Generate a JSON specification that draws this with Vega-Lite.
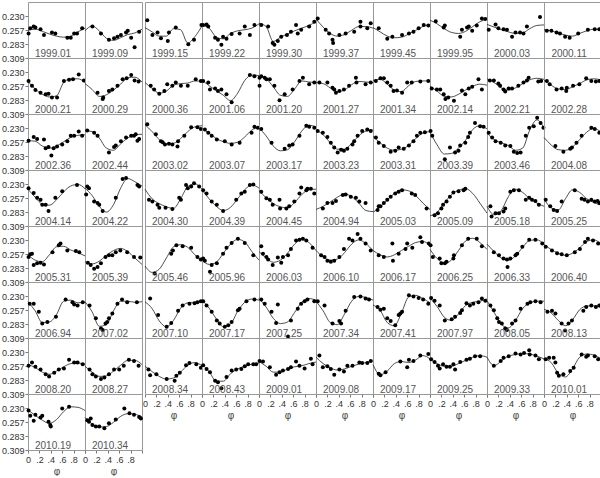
{
"$schema":"https://vega.github.io/schema/vega-lite/v6.json",
"padding":{"top":1,"left":1,"right":2,"bottom":0},
"background":"white",
"config":{"view":{"stroke":"#999","strokeWidth":1},"font":"Liberation Sans","headerFacet":{"labels":false,"title":null,"labelFontSize":0,"labelPadding":0,"titlePadding":0}},
"data":{"values":[
{"k":0,"x":0,"c":0.257,"n":"1999.01"},{"k":0,"x":0.125,"c":0.255},{"k":0,"x":0.25,"c":0.259},{"k":0,"x":0.375,"c":0.264},{"k":0,"x":0.5,"c":0.268},{"k":0,"x":0.625,"c":0.27},{"k":0,"x":0.75,"c":0.268},{"k":0,"x":0.875,"c":0.26},{"k":0,"x":1,"c":0.253},
{"k":0,"x":0.01,"m":0.263},{"k":0,"x":0.04,"m":0.253},{"k":0,"x":0.1,"m":0.25},{"k":0,"x":0.13,"m":0.252},{"k":0,"x":0.22,"m":0.255},{"k":0,"x":0.28,"m":0.266},{"k":0,"x":0.42,"m":0.261},{"k":0,"x":0.48,"m":0.263},{"k":0,"x":0.69,"m":0.271},{"k":0,"x":0.75,"m":0.271},{"k":0,"x":0.81,"m":0.263},{"k":0,"x":0.86,"m":0.263},{"k":0,"x":0.95,"m":0.253},
{"k":1,"x":0,"c":0.258,"n":"1999.09"},{"k":1,"x":0.125,"c":0.249},{"k":1,"x":0.25,"c":0.258},{"k":1,"x":0.375,"c":0.272},{"k":1,"x":0.5,"c":0.276},{"k":1,"x":0.625,"c":0.271},{"k":1,"x":0.75,"c":0.265},{"k":1,"x":0.875,"c":0.262},{"k":1,"x":1,"c":0.255},
{"k":1,"x":0.13,"m":0.25},{"k":1,"x":0.28,"m":0.263},{"k":1,"x":0.42,"m":0.275},{"k":1,"x":0.51,"m":0.272},{"k":1,"x":0.57,"m":0.269},{"k":1,"x":0.63,"m":0.266},{"k":1,"x":0.72,"m":0.261},{"k":1,"x":0.75,"m":0.258},{"k":1,"x":0.81,"m":0.271},{"k":1,"x":0.87,"m":0.289},{"k":1,"x":0.95,"m":0.26},
{"k":2,"x":0,"c":0.252,"n":"1999.15"},{"k":2,"x":0.125,"c":0.26},{"k":2,"x":0.25,"c":0.268},{"k":2,"x":0.375,"c":0.268},{"k":2,"x":0.5,"c":0.254},{"k":2,"x":0.625,"c":0.256},{"k":2,"x":0.75,"c":0.281},{"k":2,"x":0.875,"c":0.269},{"k":2,"x":1,"c":0.249},
{"k":2,"x":0.04,"m":0.238},{"k":2,"x":0.13,"m":0.266},{"k":2,"x":0.22,"m":0.261},{"k":2,"x":0.28,"m":0.272},{"k":2,"x":0.4,"m":0.277},{"k":2,"x":0.42,"m":0.261},{"k":2,"x":0.54,"m":0.252},{"k":2,"x":0.76,"m":0.283},{"k":2,"x":0.86,"m":0.275},{"k":2,"x":0.99,"m":0.247},
{"k":3,"x":0,"c":0.248,"n":"1999.22"},{"k":3,"x":0.125,"c":0.253},{"k":3,"x":0.25,"c":0.27},{"k":3,"x":0.375,"c":0.273},{"k":3,"x":0.5,"c":0.263},{"k":3,"x":0.625,"c":0.258},{"k":3,"x":0.75,"c":0.256},{"k":3,"x":0.875,"c":0.253},{"k":3,"x":1,"c":0.245},
{"k":3,"x":0.02,"m":0.247},{"k":3,"x":0.08,"m":0.246},{"k":3,"x":0.11,"m":0.25},{"k":3,"x":0.23,"m":0.271},{"k":3,"x":0.28,"m":0.275},{"k":3,"x":0.34,"m":0.284},{"k":3,"x":0.37,"m":0.269},{"k":3,"x":0.43,"m":0.273},{"k":3,"x":0.52,"m":0.264},{"k":3,"x":0.66,"m":0.263},{"k":3,"x":0.75,"m":0.25},{"k":3,"x":0.84,"m":0.266},{"k":3,"x":0.92,"m":0.247},
{"k":4,"x":0,"c":0.244,"n":"1999.30"},{"k":4,"x":0.125,"c":0.25},{"k":4,"x":0.25,"c":0.278},{"k":4,"x":0.375,"c":0.27},{"k":4,"x":0.5,"c":0.264},{"k":4,"x":0.625,"c":0.258},{"k":4,"x":0.75,"c":0.253},{"k":4,"x":0.875,"c":0.248},{"k":4,"x":1,"c":0.241},
{"k":4,"x":0.04,"m":0.247},{"k":4,"x":0.16,"m":0.25},{"k":4,"x":0.24,"m":0.281},{"k":4,"x":0.27,"m":0.284},{"k":4,"x":0.33,"m":0.277},{"k":4,"x":0.39,"m":0.269},{"k":4,"x":0.49,"m":0.266},{"k":4,"x":0.56,"m":0.26},{"k":4,"x":0.65,"m":0.247},{"k":4,"x":0.68,"m":0.263},{"k":4,"x":0.74,"m":0.256},{"k":4,"x":0.88,"m":0.25},{"k":4,"x":0.97,"m":0.241},
{"k":5,"x":0,"c":0.236,"n":"1999.37"},{"k":5,"x":0.125,"c":0.251},{"k":5,"x":0.25,"c":0.263},{"k":5,"x":0.375,"c":0.268},{"k":5,"x":0.5,"c":0.265},{"k":5,"x":0.625,"c":0.257},{"k":5,"x":0.75,"c":0.25},{"k":5,"x":0.875,"c":0.25},{"k":5,"x":1,"c":0.253},
{"k":5,"x":0.03,"m":0.235},{"k":5,"x":0.17,"m":0.256},{"k":5,"x":0.23,"m":0.263},{"k":5,"x":0.29,"m":0.275},{"k":5,"x":0.3,"m":0.281},{"k":5,"x":0.41,"m":0.266},{"k":5,"x":0.52,"m":0.263},{"k":5,"x":0.67,"m":0.26},{"k":5,"x":0.78,"m":0.241},{"k":5,"x":0.78,"m":0.25},{"k":5,"x":0.9,"m":0.253},{"k":5,"x":0.96,"m":0.244},
{"k":6,"x":0,"c":0.252,"n":"1999.45"},{"k":6,"x":0.125,"c":0.26},{"k":6,"x":0.25,"c":0.268},{"k":6,"x":0.375,"c":0.271},{"k":6,"x":0.5,"c":0.27},{"k":6,"x":0.625,"c":0.264},{"k":6,"x":0.75,"c":0.257},{"k":6,"x":0.875,"c":0.25},{"k":6,"x":1,"c":0.246},
{"k":6,"x":0.1,"m":0.253},{"k":6,"x":0.25,"m":0.273},{"k":6,"x":0.34,"m":0.269},{"k":6,"x":0.51,"m":0.266},{"k":6,"x":0.63,"m":0.263},{"k":6,"x":0.71,"m":0.26},{"k":6,"x":0.8,"m":0.253},{"k":6,"x":0.89,"m":0.247},{"k":6,"x":0.97,"m":0.248},
{"k":7,"x":0,"c":0.238,"n":"1999.95"},{"k":7,"x":0.125,"c":0.245},{"k":7,"x":0.25,"c":0.254},{"k":7,"x":0.375,"c":0.261},{"k":7,"x":0.5,"c":0.263},{"k":7,"x":0.625,"c":0.259},{"k":7,"x":0.75,"c":0.25},{"k":7,"x":0.875,"c":0.241},{"k":7,"x":1,"c":0.236},
{"k":7,"x":0.1,"m":0.24},{"k":7,"x":0.24,"m":0.252},{"k":7,"x":0.26,"m":0.248},{"k":7,"x":0.53,"m":0.269},{"k":7,"x":0.56,"m":0.256},{"k":7,"x":0.65,"m":0.252},{"k":7,"x":0.68,"m":0.25},{"k":7,"x":0.74,"m":0.258},{"k":7,"x":0.82,"m":0.248},{"k":7,"x":0.91,"m":0.235},{"k":7,"x":0.97,"m":0.236},
{"k":8,"x":0,"c":0.246,"n":"2000.03"},{"k":8,"x":0.125,"c":0.251},{"k":8,"x":0.25,"c":0.256},{"k":8,"x":0.375,"c":0.26},{"k":8,"x":0.5,"c":0.263},{"k":8,"x":0.625,"c":0.262},{"k":8,"x":0.75,"c":0.254},{"k":8,"x":0.875,"c":0.248},{"k":8,"x":1,"c":0.247},
{"k":8,"x":0.03,"m":0.256},{"k":8,"x":0.15,"m":0.246},{"k":8,"x":0.2,"m":0.253},{"k":8,"x":0.29,"m":0.255},{"k":8,"x":0.35,"m":0.256},{"k":8,"x":0.44,"m":0.269},{"k":8,"x":0.5,"m":0.261},{"k":8,"x":0.58,"m":0.261},{"k":8,"x":0.64,"m":0.263},{"k":8,"x":0.7,"m":0.25},{"k":8,"x":0.93,"m":0.232},
{"k":9,"x":0,"c":0.256,"n":"2000.11"},{"k":9,"x":0.125,"c":0.258},{"k":9,"x":0.25,"c":0.262},{"k":9,"x":0.375,"c":0.266},{"k":9,"x":0.5,"c":0.268},{"k":9,"x":0.625,"c":0.263},{"k":9,"x":0.75,"c":0.258},{"k":9,"x":0.875,"c":0.255},{"k":9,"x":1,"c":0.255},
{"k":9,"x":0.05,"m":0.258},{"k":9,"x":0.13,"m":0.258},{"k":9,"x":0.22,"m":0.261},{"k":9,"x":0.28,"m":0.263},{"k":9,"x":0.37,"m":0.269},{"k":9,"x":0.45,"m":0.271},{"k":9,"x":0.6,"m":0.263},{"k":9,"x":0.77,"m":0.256},{"k":9,"x":0.89,"m":0.255},{"k":9,"x":0.97,"m":0.255},
{"k":10,"x":0,"c":0.248,"n":"2000.21"},{"k":10,"x":0.125,"c":0.262},{"k":10,"x":0.25,"c":0.272},{"k":10,"x":0.375,"c":0.277},{"k":10,"x":0.5,"c":0.275},{"k":10,"x":0.625,"c":0.25},{"k":10,"x":0.75,"c":0.243},{"k":10,"x":0.875,"c":0.243},{"k":10,"x":1,"c":0.25},
{"k":10,"x":0.01,"m":0.247},{"k":10,"x":0.07,"m":0.256},{"k":10,"x":0.13,"m":0.264},{"k":10,"x":0.22,"m":0.269},{"k":10,"x":0.31,"m":0.272},{"k":10,"x":0.36,"m":0.271},{"k":10,"x":0.42,"m":0.278},{"k":10,"x":0.51,"m":0.278},{"k":10,"x":0.63,"m":0.247},{"k":10,"x":0.72,"m":0.245},{"k":10,"x":0.79,"m":0.244},{"k":10,"x":0.89,"m":0.235},{"k":10,"x":0.98,"m":0.246},
{"k":11,"x":0,"c":0.252,"n":"2000.29"},{"k":11,"x":0.125,"c":0.263},{"k":11,"x":0.25,"c":0.276},{"k":11,"x":0.375,"c":0.273},{"k":11,"x":0.5,"c":0.264},{"k":11,"x":0.625,"c":0.253},{"k":11,"x":0.75,"c":0.241},{"k":11,"x":0.875,"c":0.24},{"k":11,"x":1,"c":0.249},
{"k":11,"x":0.22,"m":0.269},{"k":11,"x":0.31,"m":0.281},{"k":11,"x":0.32,"m":0.278},{"k":11,"x":0.42,"m":0.266},{"k":11,"x":0.48,"m":0.263},{"k":11,"x":0.57,"m":0.256},{"k":11,"x":0.66,"m":0.244},{"k":11,"x":0.73,"m":0.242},{"k":11,"x":0.81,"m":0.236},{"k":11,"x":0.87,"m":0.246},{"k":11,"x":0.94,"m":0.248},
{"k":12,"x":0,"c":0.25,"n":"2000.36"},{"k":12,"x":0.125,"c":0.261},{"k":12,"x":0.25,"c":0.27},{"k":12,"x":0.375,"c":0.266},{"k":12,"x":0.5,"c":0.255},{"k":12,"x":0.625,"c":0.252},{"k":12,"x":0.75,"c":0.251},{"k":12,"x":0.875,"c":0.247},{"k":12,"x":1,"c":0.248},
{"k":12,"x":0.1,"m":0.256},{"k":12,"x":0.16,"m":0.263},{"k":12,"x":0.25,"m":0.271},{"k":12,"x":0.34,"m":0.266},{"k":12,"x":0.39,"m":0.253},{"k":12,"x":0.48,"m":0.256},{"k":12,"x":0.54,"m":0.25},{"k":12,"x":0.63,"m":0.256},{"k":12,"x":0.75,"m":0.256},{"k":12,"x":0.89,"m":0.244},{"k":12,"x":0.98,"m":0.247},
{"k":13,"x":0,"c":0.245,"n":"2001.06"},{"k":13,"x":0.125,"c":0.256},{"k":13,"x":0.25,"c":0.265},{"k":13,"x":0.375,"c":0.274},{"k":13,"x":0.5,"c":0.284},{"k":13,"x":0.625,"c":0.27},{"k":13,"x":0.75,"c":0.246},{"k":13,"x":0.875,"c":0.236},{"k":13,"x":1,"c":0.237},
{"k":13,"x":0.02,"m":0.247},{"k":13,"x":0.11,"m":0.25},{"k":13,"x":0.14,"m":0.263},{"k":13,"x":0.23,"m":0.261},{"k":13,"x":0.28,"m":0.266},{"k":13,"x":0.34,"m":0.263},{"k":13,"x":0.43,"m":0.272},{"k":13,"x":0.52,"m":0.287},{"k":13,"x":0.84,"m":0.236},{"k":13,"x":0.92,"m":0.238},
{"k":14,"x":0,"c":0.239,"n":"2001.20"},{"k":14,"x":0.125,"c":0.243},{"k":14,"x":0.25,"c":0.258},{"k":14,"x":0.375,"c":0.274},{"k":14,"x":0.5,"c":0.276},{"k":14,"x":0.625,"c":0.262},{"k":14,"x":0.75,"c":0.247},{"k":14,"x":0.875,"c":0.249},{"k":14,"x":1,"c":0.25},
{"k":14,"x":0.01,"m":0.241},{"k":14,"x":0.04,"m":0.238},{"k":14,"x":0.1,"m":0.241},{"k":14,"x":0.13,"m":0.244},{"k":14,"x":0.01,"m":0.256},{"k":14,"x":0.19,"m":0.244},{"k":14,"x":0.27,"m":0.256},{"k":14,"x":0.36,"m":0.283},{"k":14,"x":0.45,"m":0.272},{"k":14,"x":0.59,"m":0.263},{"k":14,"x":0.71,"m":0.247},{"k":14,"x":0.77,"m":0.241},{"k":14,"x":0.88,"m":0.253},{"k":14,"x":0.97,"m":0.25},
{"k":15,"x":0,"c":0.25,"n":"2001.27"},{"k":15,"x":0.125,"c":0.252},{"k":15,"x":0.25,"c":0.26},{"k":15,"x":0.375,"c":0.267},{"k":15,"x":0.5,"c":0.264},{"k":15,"x":0.625,"c":0.254},{"k":15,"x":0.75,"c":0.248},{"k":15,"x":0.875,"c":0.249},{"k":15,"x":1,"c":0.25},
{"k":15,"x":0.06,"m":0.25},{"k":15,"x":0.2,"m":0.25},{"k":15,"x":0.29,"m":0.26},{"k":15,"x":0.35,"m":0.269},{"k":15,"x":0.32,"m":0.263},{"k":15,"x":0.41,"m":0.266},{"k":15,"x":0.49,"m":0.263},{"k":15,"x":0.58,"m":0.256},{"k":15,"x":0.7,"m":0.241},{"k":15,"x":0.71,"m":0.25},{"k":15,"x":0.87,"m":0.253},{"k":15,"x":0.96,"m":0.25},
{"k":16,"x":0,"c":0.246,"n":"2001.34"},{"k":16,"x":0.125,"c":0.244},{"k":16,"x":0.25,"c":0.253},{"k":16,"x":0.375,"c":0.264},{"k":16,"x":0.5,"c":0.267},{"k":16,"x":0.625,"c":0.256},{"k":16,"x":0.75,"c":0.248},{"k":16,"x":0.875,"c":0.247},{"k":16,"x":1,"c":0.247},
{"k":16,"x":0.05,"m":0.247},{"k":16,"x":0.13,"m":0.242},{"k":16,"x":0.19,"m":0.242},{"k":16,"x":0.25,"m":0.25},{"k":16,"x":0.31,"m":0.256},{"k":16,"x":0.36,"m":0.266},{"k":16,"x":0.42,"m":0.265},{"k":16,"x":0.51,"m":0.269},{"k":16,"x":0.6,"m":0.25},{"k":16,"x":0.68,"m":0.25},{"k":16,"x":0.83,"m":0.248},{"k":16,"x":0.97,"m":0.247},
{"k":17,"x":0,"c":0.257,"n":"2002.14"},{"k":17,"x":0.125,"c":0.266},{"k":17,"x":0.25,"c":0.276},{"k":17,"x":0.375,"c":0.277},{"k":17,"x":0.5,"c":0.272},{"k":17,"x":0.625,"c":0.264},{"k":17,"x":0.75,"c":0.257},{"k":17,"x":0.875,"c":0.253},{"k":17,"x":1,"c":0.255},
{"k":17,"x":0.03,"m":0.261},{"k":17,"x":0.12,"m":0.263},{"k":17,"x":0.18,"m":0.263},{"k":17,"x":0.24,"m":0.272},{"k":17,"x":0.27,"m":0.281},{"k":17,"x":0.32,"m":0.278},{"k":17,"x":0.42,"m":0.284},{"k":17,"x":0.56,"m":0.265},{"k":17,"x":0.62,"m":0.272},{"k":17,"x":0.68,"m":0.261},{"k":17,"x":0.74,"m":0.258},{"k":17,"x":0.85,"m":0.244},{"k":17,"x":0.91,"m":0.263},
{"k":18,"x":0,"c":0.243,"n":"2002.21"},{"k":18,"x":0.125,"c":0.25},{"k":18,"x":0.25,"c":0.26},{"k":18,"x":0.375,"c":0.264},{"k":18,"x":0.5,"c":0.26},{"k":18,"x":0.625,"c":0.252},{"k":18,"x":0.75,"c":0.245},{"k":18,"x":0.875,"c":0.242},{"k":18,"x":1,"c":0.244},
{"k":18,"x":0.05,"m":0.246},{"k":18,"x":0.12,"m":0.246},{"k":18,"x":0.2,"m":0.252},{"k":18,"x":0.23,"m":0.256},{"k":18,"x":0.29,"m":0.263},{"k":18,"x":0.32,"m":0.267},{"k":18,"x":0.38,"m":0.261},{"k":18,"x":0.44,"m":0.261},{"k":18,"x":0.55,"m":0.256},{"k":18,"x":0.64,"m":0.25},{"k":18,"x":0.7,"m":0.246},{"k":18,"x":0.73,"m":0.241},{"k":18,"x":0.9,"m":0.248},{"k":18,"x":0.95,"m":0.247},
{"k":19,"x":0,"c":0.246,"n":"2002.28"},{"k":19,"x":0.125,"c":0.255},{"k":19,"x":0.25,"c":0.262},{"k":19,"x":0.375,"c":0.263},{"k":19,"x":0.5,"c":0.258},{"k":19,"x":0.625,"c":0.252},{"k":19,"x":0.75,"c":0.245},{"k":19,"x":0.875,"c":0.243},{"k":19,"x":1,"c":0.245},
{"k":19,"x":0.05,"m":0.247},{"k":19,"x":0.1,"m":0.253},{"k":19,"x":0.22,"m":0.263},{"k":19,"x":0.31,"m":0.261},{"k":19,"x":0.39,"m":0.266},{"k":19,"x":0.4,"m":0.26},{"k":19,"x":0.51,"m":0.256},{"k":19,"x":0.62,"m":0.253},{"k":19,"x":0.74,"m":0.242},{"k":19,"x":0.83,"m":0.247},{"k":19,"x":0.91,"m":0.248},{"k":19,"x":0.97,"m":0.247},
{"k":20,"x":0,"c":0.254,"n":"2002.36"},{"k":20,"x":0.125,"c":0.255},{"k":20,"x":0.25,"c":0.264},{"k":20,"x":0.375,"c":0.268},{"k":20,"x":0.5,"c":0.264},{"k":20,"x":0.625,"c":0.256},{"k":20,"x":0.75,"c":0.248},{"k":20,"x":0.875,"c":0.244},{"k":20,"x":1,"c":0.243},
{"k":20,"x":0.01,"m":0.254},{"k":20,"x":0.1,"m":0.247},{"k":20,"x":0.16,"m":0.251},{"k":20,"x":0.28,"m":0.252},{"k":20,"x":0.31,"m":0.268},{"k":20,"x":0.36,"m":0.266},{"k":20,"x":0.41,"m":0.282},{"k":20,"x":0.45,"m":0.268},{"k":20,"x":0.51,"m":0.265},{"k":20,"x":0.6,"m":0.261},{"k":20,"x":0.69,"m":0.255},{"k":20,"x":0.75,"m":0.245},{"k":20,"x":0.81,"m":0.245},{"k":20,"x":0.89,"m":0.237},{"k":20,"x":0.95,"m":0.245},
{"k":21,"x":0,"c":0.235,"n":"2002.44"},{"k":21,"x":0.125,"c":0.237},{"k":21,"x":0.25,"c":0.249},{"k":21,"x":0.375,"c":0.268},{"k":21,"x":0.5,"c":0.272},{"k":21,"x":0.625,"c":0.26},{"k":21,"x":0.75,"c":0.249},{"k":21,"x":0.875,"c":0.243},{"k":21,"x":1,"c":0.242},
{"k":21,"x":0.04,"m":0.235},{"k":21,"x":0.16,"m":0.239},{"k":21,"x":0.22,"m":0.245},{"k":21,"x":0.42,"m":0.276},{"k":21,"x":0.51,"m":0.266},{"k":21,"x":0.54,"m":0.263},{"k":21,"x":0.63,"m":0.255},{"k":21,"x":0.72,"m":0.248},{"k":21,"x":0.81,"m":0.245},{"k":21,"x":0.86,"m":0.245},{"k":21,"x":0.89,"m":0.242},{"k":21,"x":0.92,"m":0.254},{"k":21,"x":0.95,"m":0.251},
{"k":22,"x":0,"c":0.224,"n":"2003.02"},{"k":22,"x":0.125,"c":0.237},{"k":22,"x":0.25,"c":0.252},{"k":22,"x":0.375,"c":0.26},{"k":22,"x":0.5,"c":0.259},{"k":22,"x":0.625,"c":0.25},{"k":22,"x":0.75,"c":0.237},{"k":22,"x":0.875,"c":0.228},{"k":22,"x":1,"c":0.226},
{"k":22,"x":0.04,"m":0.223},{"k":22,"x":0.19,"m":0.242},{"k":22,"x":0.28,"m":0.255},{"k":22,"x":0.31,"m":0.257},{"k":22,"x":0.35,"m":0.261},{"k":22,"x":0.42,"m":0.26},{"k":22,"x":0.48,"m":0.261},{"k":22,"x":0.57,"m":0.265},{"k":22,"x":0.58,"m":0.255},{"k":22,"x":0.69,"m":0.245},{"k":22,"x":0.81,"m":0.229},{"k":22,"x":0.92,"m":0.229},{"k":22,"x":0.98,"m":0.232},
{"k":23,"x":0,"c":0.231,"n":"2003.07"},{"k":23,"x":0.125,"c":0.24},{"k":23,"x":0.25,"c":0.25},{"k":23,"x":0.375,"c":0.256},{"k":23,"x":0.5,"c":0.259},{"k":23,"x":0.625,"c":0.257},{"k":23,"x":0.75,"c":0.247},{"k":23,"x":0.875,"c":0.234},{"k":23,"x":1,"c":0.229},
{"k":23,"x":0.05,"m":0.233},{"k":23,"x":0.11,"m":0.239},{"k":23,"x":0.17,"m":0.245},{"k":23,"x":0.26,"m":0.252},{"k":23,"x":0.4,"m":0.255},{"k":23,"x":0.52,"m":0.261},{"k":23,"x":0.66,"m":0.258},{"k":23,"x":0.87,"m":0.239},{"k":23,"x":0.92,"m":0.228},{"k":23,"x":0.98,"m":0.23},
{"k":24,"x":0,"c":0.23,"n":"2003.17"},{"k":24,"x":0.125,"c":0.245},{"k":24,"x":0.25,"c":0.264},{"k":24,"x":0.375,"c":0.273},{"k":24,"x":0.5,"c":0.271},{"k":24,"x":0.625,"c":0.256},{"k":24,"x":0.75,"c":0.236},{"k":24,"x":0.875,"c":0.225},{"k":24,"x":1,"c":0.228},
{"k":24,"x":0.04,"m":0.232},{"k":24,"x":0.22,"m":0.258},{"k":24,"x":0.45,"m":0.269},{"k":24,"x":0.53,"m":0.263},{"k":24,"x":0.59,"m":0.261},{"k":24,"x":0.71,"m":0.245},{"k":24,"x":0.83,"m":0.226},{"k":24,"x":0.88,"m":0.228},{"k":24,"x":0.97,"m":0.23},
{"k":25,"x":0,"c":0.234,"n":"2003.23"},{"k":25,"x":0.125,"c":0.243},{"k":25,"x":0.25,"c":0.258},{"k":25,"x":0.375,"c":0.27},{"k":25,"x":0.5,"c":0.27},{"k":25,"x":0.625,"c":0.259},{"k":25,"x":0.75,"c":0.245},{"k":25,"x":0.875,"c":0.236},{"k":25,"x":1,"c":0.234},
{"k":25,"x":0.03,"m":0.236},{"k":25,"x":0.12,"m":0.239},{"k":25,"x":0.2,"m":0.247},{"k":25,"x":0.26,"m":0.258},{"k":25,"x":0.32,"m":0.267},{"k":25,"x":0.38,"m":0.276},{"k":25,"x":0.44,"m":0.271},{"k":25,"x":0.49,"m":0.273},{"k":25,"x":0.55,"m":0.269},{"k":25,"x":0.64,"m":0.261},{"k":25,"x":0.67,"m":0.255},{"k":25,"x":0.73,"m":0.245},{"k":25,"x":0.81,"m":0.236},{"k":25,"x":0.9,"m":0.233},{"k":25,"x":0.96,"m":0.236},
{"k":26,"x":0,"c":0.246,"n":"2003.31"},{"k":26,"x":0.125,"c":0.258},{"k":26,"x":0.25,"c":0.268},{"k":26,"x":0.375,"c":0.272},{"k":26,"x":0.5,"c":0.27},{"k":26,"x":0.625,"c":0.263},{"k":26,"x":0.75,"c":0.25},{"k":26,"x":0.875,"c":0.24},{"k":26,"x":1,"c":0.237},
{"k":26,"x":0.05,"m":0.248},{"k":26,"x":0.1,"m":0.258},{"k":26,"x":0.19,"m":0.264},{"k":26,"x":0.31,"m":0.275},{"k":26,"x":0.39,"m":0.273},{"k":26,"x":0.45,"m":0.267},{"k":26,"x":0.54,"m":0.269},{"k":26,"x":0.63,"m":0.263},{"k":26,"x":0.71,"m":0.255},{"k":26,"x":0.77,"m":0.245},{"k":26,"x":0.83,"m":0.239},{"k":26,"x":0.91,"m":0.238},
{"k":27,"x":0,"c":0.238,"n":"2003.39"},{"k":27,"x":0.125,"c":0.262},{"k":27,"x":0.25,"c":0.279},{"k":27,"x":0.375,"c":0.278},{"k":27,"x":0.5,"c":0.268},{"k":27,"x":0.625,"c":0.253},{"k":27,"x":0.75,"c":0.233},{"k":27,"x":0.875,"c":0.226},{"k":27,"x":1,"c":0.232},
{"k":27,"x":0.01,"m":0.236},{"k":27,"x":0.04,"m":0.245},{"k":27,"x":0.26,"m":0.289},{"k":27,"x":0.35,"m":0.267},{"k":27,"x":0.44,"m":0.276},{"k":27,"x":0.5,"m":0.273},{"k":27,"x":0.53,"m":0.263},{"k":27,"x":0.62,"m":0.258},{"k":27,"x":0.67,"m":0.247},{"k":27,"x":0.7,"m":0.239},{"k":27,"x":0.79,"m":0.221},{"k":27,"x":0.88,"m":0.227},{"k":27,"x":0.94,"m":0.228},
{"k":28,"x":0,"c":0.24,"n":"2003.46"},{"k":28,"x":0.125,"c":0.252},{"k":28,"x":0.25,"c":0.258},{"k":28,"x":0.375,"c":0.263},{"k":28,"x":0.5,"c":0.272},{"k":28,"x":0.625,"c":0.268},{"k":28,"x":0.75,"c":0.234},{"k":28,"x":0.875,"c":0.215},{"k":28,"x":1,"c":0.23},
{"k":28,"x":0.03,"m":0.239},{"k":28,"x":0.09,"m":0.248},{"k":28,"x":0.15,"m":0.255},{"k":28,"x":0.24,"m":0.258},{"k":28,"x":0.32,"m":0.263},{"k":28,"x":0.41,"m":0.264},{"k":28,"x":0.47,"m":0.275},{"k":28,"x":0.53,"m":0.277},{"k":28,"x":0.59,"m":0.276},{"k":28,"x":0.68,"m":0.245},{"k":28,"x":0.74,"m":0.23},{"k":28,"x":0.82,"m":0.227},{"k":28,"x":0.88,"m":0.211},{"k":28,"x":0.94,"m":0.221},{"k":28,"x":0.99,"m":0.23},
{"k":29,"x":0,"c":0.248,"n":"2004.08"},{"k":29,"x":0.125,"c":0.262},{"k":29,"x":0.25,"c":0.271},{"k":29,"x":0.375,"c":0.272},{"k":29,"x":0.5,"c":0.266},{"k":29,"x":0.625,"c":0.252},{"k":29,"x":0.75,"c":0.238},{"k":29,"x":0.875,"c":0.231},{"k":29,"x":1,"c":0.238},
{"k":29,"x":0.2,"m":0.264},{"k":29,"x":0.34,"m":0.275},{"k":29,"x":0.46,"m":0.269},{"k":29,"x":0.49,"m":0.267},{"k":29,"x":0.57,"m":0.258},{"k":29,"x":0.66,"m":0.245},{"k":29,"x":0.83,"m":0.23},{"k":29,"x":0.89,"m":0.232},{"k":29,"x":0.97,"m":0.239},
{"k":30,"x":0,"c":0.24,"n":"2004.14"},{"k":30,"x":0.125,"c":0.255},{"k":30,"x":0.25,"c":0.268},{"k":30,"x":0.375,"c":0.27},{"k":30,"x":0.5,"c":0.26},{"k":30,"x":0.625,"c":0.245},{"k":30,"x":0.75,"c":0.234},{"k":30,"x":0.875,"c":0.231},{"k":30,"x":1,"c":0.239},
{"k":30,"x":0.01,"m":0.238},{"k":30,"x":0.1,"m":0.247},{"k":30,"x":0.16,"m":0.256},{"k":30,"x":0.22,"m":0.26},{"k":30,"x":0.25,"m":0.269},{"k":30,"x":0.31,"m":0.269},{"k":30,"x":0.36,"m":0.281},{"k":30,"x":0.48,"m":0.256},{"k":30,"x":0.6,"m":0.244},{"k":30,"x":0.86,"m":0.232},
{"k":31,"x":0,"c":0.238,"n":"2004.22"},{"k":31,"x":0.125,"c":0.252},{"k":31,"x":0.25,"c":0.272},{"k":31,"x":0.375,"c":0.283},{"k":31,"x":0.5,"c":0.269},{"k":31,"x":0.625,"c":0.238},{"k":31,"x":0.75,"c":0.22},{"k":31,"x":0.875,"c":0.226},{"k":31,"x":1,"c":0.234},
{"k":31,"x":0.02,"m":0.25},{"k":31,"x":0.04,"m":0.235},{"k":31,"x":0.07,"m":0.238},{"k":31,"x":0.16,"m":0.263},{"k":31,"x":0.22,"m":0.266},{"k":31,"x":0.25,"m":0.269},{"k":31,"x":0.31,"m":0.281},{"k":31,"x":0.54,"m":0.256},{"k":31,"x":0.66,"m":0.221},{"k":31,"x":0.72,"m":0.219},{"k":31,"x":0.92,"m":0.232},{"k":31,"x":0.95,"m":0.235},
{"k":32,"x":0,"c":0.24,"n":"2004.30"},{"k":32,"x":0.125,"c":0.258},{"k":32,"x":0.25,"c":0.267},{"k":32,"x":0.375,"c":0.273},{"k":32,"x":0.5,"c":0.276},{"k":32,"x":0.625,"c":0.258},{"k":32,"x":0.75,"c":0.235},{"k":32,"x":0.875,"c":0.23},{"k":32,"x":1,"c":0.24},
{"k":32,"x":0.07,"m":0.26},{"k":32,"x":0.13,"m":0.263},{"k":32,"x":0.22,"m":0.269},{"k":32,"x":0.25,"m":0.275},{"k":32,"x":0.36,"m":0.275},{"k":32,"x":0.48,"m":0.277},{"k":32,"x":0.6,"m":0.256},{"k":32,"x":0.63,"m":0.26},{"k":32,"x":0.72,"m":0.232},{"k":32,"x":0.75,"m":0.238},{"k":32,"x":0.81,"m":0.235},{"k":32,"x":0.86,"m":0.229},{"k":32,"x":0.95,"m":0.235},
{"k":33,"x":0,"c":0.241,"n":"2004.39"},{"k":33,"x":0.125,"c":0.258},{"k":33,"x":0.25,"c":0.272},{"k":33,"x":0.375,"c":0.28},{"k":33,"x":0.5,"c":0.274},{"k":33,"x":0.625,"c":0.258},{"k":33,"x":0.75,"c":0.241},{"k":33,"x":0.875,"c":0.232},{"k":33,"x":1,"c":0.238},
{"k":33,"x":0.02,"m":0.242},{"k":33,"x":0.08,"m":0.248},{"k":33,"x":0.17,"m":0.263},{"k":33,"x":0.26,"m":0.269},{"k":33,"x":0.37,"m":0.281},{"k":33,"x":0.6,"m":0.26},{"k":33,"x":0.69,"m":0.248},{"k":33,"x":0.75,"m":0.245},{"k":33,"x":0.84,"m":0.232},{"k":33,"x":0.9,"m":0.231},
{"k":34,"x":0,"c":0.243,"n":"2004.45"},{"k":34,"x":0.125,"c":0.256},{"k":34,"x":0.25,"c":0.267},{"k":34,"x":0.375,"c":0.273},{"k":34,"x":0.5,"c":0.275},{"k":34,"x":0.625,"c":0.265},{"k":34,"x":0.75,"c":0.25},{"k":34,"x":0.875,"c":0.241},{"k":34,"x":1,"c":0.24},
{"k":34,"x":0.04,"m":0.245},{"k":34,"x":0.13,"m":0.257},{"k":34,"x":0.19,"m":0.26},{"k":34,"x":0.24,"m":0.269},{"k":34,"x":0.36,"m":0.26},{"k":34,"x":0.37,"m":0.276},{"k":34,"x":0.48,"m":0.276},{"k":34,"x":0.53,"m":0.272},{"k":34,"x":0.62,"m":0.263},{"k":34,"x":0.71,"m":0.248},{"k":34,"x":0.74,"m":0.237},{"k":34,"x":0.83,"m":0.242},{"k":34,"x":0.85,"m":0.239},{"k":34,"x":0.91,"m":0.239},{"k":34,"x":0.97,"m":0.248},
{"k":35,"x":0,"c":0.278,"n":"2004.94"},{"k":35,"x":0.125,"c":0.272},{"k":35,"x":0.25,"c":0.264},{"k":35,"x":0.375,"c":0.255},{"k":35,"x":0.5,"c":0.249},{"k":35,"x":0.625,"c":0.254},{"k":35,"x":0.75,"c":0.266},{"k":35,"x":0.875,"c":0.28},{"k":35,"x":1,"c":0.282},
{"k":35,"x":0.12,"m":0.276},{"k":35,"x":0.2,"m":0.266},{"k":35,"x":0.29,"m":0.266},{"k":35,"x":0.35,"m":0.262},{"k":35,"x":0.47,"m":0.251},{"k":35,"x":0.52,"m":0.25},{"k":35,"x":0.61,"m":0.254},{"k":35,"x":0.7,"m":0.256},{"k":35,"x":0.76,"m":0.263},{"k":35,"x":0.87,"m":0.266},
{"k":36,"x":0,"c":0.283,"n":"2005.03"},{"k":36,"x":0.125,"c":0.274},{"k":36,"x":0.25,"c":0.26},{"k":36,"x":0.375,"c":0.248},{"k":36,"x":0.5,"c":0.241},{"k":36,"x":0.625,"c":0.243},{"k":36,"x":0.75,"c":0.252},{"k":36,"x":0.875,"c":0.266},{"k":36,"x":1,"c":0.278},
{"k":36,"x":0.08,"m":0.279},{"k":36,"x":0.1,"m":0.272},{"k":36,"x":0.13,"m":0.272},{"k":36,"x":0.19,"m":0.266},{"k":36,"x":0.25,"m":0.26},{"k":36,"x":0.31,"m":0.254},{"k":36,"x":0.39,"m":0.248},{"k":36,"x":0.45,"m":0.245},{"k":36,"x":0.51,"m":0.242},{"k":36,"x":0.68,"m":0.248},{"k":36,"x":0.74,"m":0.251},{"k":36,"x":0.94,"m":0.276},
{"k":37,"x":0,"c":0.29,"n":"2005.09"},{"k":37,"x":0.125,"c":0.283},{"k":37,"x":0.25,"c":0.266},{"k":37,"x":0.375,"c":0.25},{"k":37,"x":0.5,"c":0.242},{"k":37,"x":0.625,"c":0.239},{"k":37,"x":0.75,"c":0.248},{"k":37,"x":0.875,"c":0.266},{"k":37,"x":1,"c":0.285},
{"k":37,"x":0.08,"m":0.289},{"k":37,"x":0.14,"m":0.285},{"k":37,"x":0.2,"m":0.276},{"k":37,"x":0.23,"m":0.269},{"k":37,"x":0.29,"m":0.263},{"k":37,"x":0.35,"m":0.254},{"k":37,"x":0.41,"m":0.246},{"k":37,"x":0.5,"m":0.244},{"k":37,"x":0.59,"m":0.242},{"k":37,"x":0.62,"m":0.239},
{"k":38,"x":0,"c":0.272,"n":"2005.18"},{"k":38,"x":0.125,"c":0.288},{"k":38,"x":0.25,"c":0.28},{"k":38,"x":0.375,"c":0.254},{"k":38,"x":0.5,"c":0.24},{"k":38,"x":0.625,"c":0.246},{"k":38,"x":0.75,"c":0.258},{"k":38,"x":0.875,"c":0.266},{"k":38,"x":1,"c":0.272},
{"k":38,"x":0.06,"m":0.272},{"k":38,"x":0.08,"m":0.291},{"k":38,"x":0.15,"m":0.285},{"k":38,"x":0.21,"m":0.285},{"k":38,"x":0.29,"m":0.282},{"k":38,"x":0.32,"m":0.276},{"k":38,"x":0.41,"m":0.245},{"k":38,"x":0.47,"m":0.242},{"k":38,"x":0.56,"m":0.242},{"k":38,"x":0.68,"m":0.26},{"k":38,"x":0.74,"m":0.256},{"k":38,"x":0.79,"m":0.26},{"k":38,"x":0.85,"m":0.262},{"k":38,"x":0.91,"m":0.269},
{"k":39,"x":0,"c":0.258,"n":"2005.25"},{"k":39,"x":0.125,"c":0.275},{"k":39,"x":0.25,"c":0.279},{"k":39,"x":0.375,"c":0.258},{"k":39,"x":0.5,"c":0.241},{"k":39,"x":0.625,"c":0.246},{"k":39,"x":0.75,"c":0.258},{"k":39,"x":0.875,"c":0.265},{"k":39,"x":1,"c":0.27},
{"k":39,"x":0.03,"m":0.26},{"k":39,"x":0.11,"m":0.272},{"k":39,"x":0.17,"m":0.279},{"k":39,"x":0.23,"m":0.281},{"k":39,"x":0.31,"m":0.263},{"k":39,"x":0.54,"m":0.242},{"k":39,"x":0.66,"m":0.258},{"k":39,"x":0.71,"m":0.26},{"k":39,"x":0.77,"m":0.263},{"k":39,"x":0.83,"m":0.26},{"k":39,"x":0.89,"m":0.263},{"k":39,"x":0.94,"m":0.262},{"k":39,"x":0.97,"m":0.266},
{"k":40,"x":0,"c":0.258,"n":"2005.31"},{"k":40,"x":0.125,"c":0.268},{"k":40,"x":0.25,"c":0.271},{"k":40,"x":0.375,"c":0.258},{"k":40,"x":0.5,"c":0.243},{"k":40,"x":0.625,"c":0.242},{"k":40,"x":0.75,"c":0.249},{"k":40,"x":0.875,"c":0.254},{"k":40,"x":1,"c":0.26},
{"k":40,"x":0.01,"m":0.262},{"k":40,"x":0.04,"m":0.257},{"k":40,"x":0.07,"m":0.256},{"k":40,"x":0.1,"m":0.277},{"k":40,"x":0.16,"m":0.274},{"k":40,"x":0.22,"m":0.273},{"k":40,"x":0.28,"m":0.276},{"k":40,"x":0.43,"m":0.253},{"k":40,"x":0.54,"m":0.24},{"k":40,"x":0.57,"m":0.237},{"k":40,"x":0.69,"m":0.25},{"k":40,"x":0.84,"m":0.251},{"k":40,"x":0.9,"m":0.253},
{"k":41,"x":0,"c":0.271,"n":"2005.39"},{"k":41,"x":0.125,"c":0.275},{"k":41,"x":0.25,"c":0.27},{"k":41,"x":0.375,"c":0.259},{"k":41,"x":0.5,"c":0.25},{"k":41,"x":0.625,"c":0.246},{"k":41,"x":0.75,"c":0.252},{"k":41,"x":0.875,"c":0.264},{"k":41,"x":1,"c":0.276},
{"k":41,"x":0.05,"m":0.273},{"k":41,"x":0.1,"m":0.277},{"k":41,"x":0.16,"m":0.284},{"k":41,"x":0.22,"m":0.281},{"k":41,"x":0.28,"m":0.274},{"k":41,"x":0.36,"m":0.262},{"k":41,"x":0.42,"m":0.259},{"k":41,"x":0.48,"m":0.259},{"k":41,"x":0.54,"m":0.253},{"k":41,"x":0.62,"m":0.25},{"k":41,"x":0.74,"m":0.253},{"k":41,"x":0.86,"m":0.262},{"k":41,"x":0.97,"m":0.263},
{"k":42,"x":0,"c":0.279,"n":"2005.46"},{"k":42,"x":0.125,"c":0.291},{"k":42,"x":0.25,"c":0.285},{"k":42,"x":0.375,"c":0.264},{"k":42,"x":0.5,"c":0.243},{"k":42,"x":0.625,"c":0.239},{"k":42,"x":0.75,"c":0.244},{"k":42,"x":0.875,"c":0.258},{"k":42,"x":1,"c":0.27},
{"k":42,"x":0.17,"m":0.293},{"k":42,"x":0.46,"m":0.256},{"k":42,"x":0.49,"m":0.25},{"k":42,"x":0.55,"m":0.24},{"k":42,"x":0.66,"m":0.242},{"k":42,"x":0.81,"m":0.245},{"k":42,"x":0.92,"m":0.262},{"k":42,"x":0.98,"m":0.267},
{"k":43,"x":0,"c":0.268,"n":"2005.96"},{"k":43,"x":0.125,"c":0.276},{"k":43,"x":0.25,"c":0.272},{"k":43,"x":0.375,"c":0.255},{"k":43,"x":0.5,"c":0.238},{"k":43,"x":0.625,"c":0.229},{"k":43,"x":0.75,"c":0.234},{"k":43,"x":0.875,"c":0.252},{"k":43,"x":1,"c":0.268},
{"k":43,"x":0.02,"m":0.265},{"k":43,"x":0.05,"m":0.269},{"k":43,"x":0.14,"m":0.29},{"k":43,"x":0.17,"m":0.277},{"k":43,"x":0.26,"m":0.274},{"k":43,"x":0.37,"m":0.256},{"k":43,"x":0.43,"m":0.245},{"k":43,"x":0.52,"m":0.236},{"k":43,"x":0.63,"m":0.228},{"k":43,"x":0.75,"m":0.236},{"k":43,"x":0.9,"m":0.259},
{"k":44,"x":0,"c":0.252,"n":"2006.03"},{"k":44,"x":0.125,"c":0.264},{"k":44,"x":0.25,"c":0.272},{"k":44,"x":0.375,"c":0.268},{"k":44,"x":0.5,"c":0.255},{"k":44,"x":0.625,"c":0.238},{"k":44,"x":0.75,"c":0.229},{"k":44,"x":0.875,"c":0.235},{"k":44,"x":1,"c":0.25},
{"k":44,"x":0.04,"m":0.242},{"k":44,"x":0.07,"m":0.256},{"k":44,"x":0.13,"m":0.262},{"k":44,"x":0.16,"m":0.267},{"k":44,"x":0.24,"m":0.277},{"k":44,"x":0.33,"m":0.263},{"k":44,"x":0.39,"m":0.273},{"k":44,"x":0.42,"m":0.262},{"k":44,"x":0.51,"m":0.259},{"k":44,"x":0.56,"m":0.247},{"k":44,"x":0.65,"m":0.231},{"k":44,"x":0.71,"m":0.23},{"k":44,"x":0.77,"m":0.228},{"k":44,"x":0.83,"m":0.231},{"k":44,"x":0.94,"m":0.245},
{"k":45,"x":0,"c":0.25,"n":"2006.10"},{"k":45,"x":0.125,"c":0.262},{"k":45,"x":0.25,"c":0.268},{"k":45,"x":0.375,"c":0.266},{"k":45,"x":0.5,"c":0.254},{"k":45,"x":0.625,"c":0.238},{"k":45,"x":0.75,"c":0.23},{"k":45,"x":0.875,"c":0.237},{"k":45,"x":1,"c":0.25},
{"k":45,"x":0.09,"m":0.259},{"k":45,"x":0.15,"m":0.262},{"k":45,"x":0.2,"m":0.269},{"k":45,"x":0.26,"m":0.271},{"k":45,"x":0.32,"m":0.269},{"k":45,"x":0.41,"m":0.262},{"k":45,"x":0.49,"m":0.247},{"k":45,"x":0.58,"m":0.228},{"k":45,"x":0.64,"m":0.231},{"k":45,"x":0.73,"m":0.219},{"k":45,"x":0.78,"m":0.228},{"k":45,"x":0.87,"m":0.237},{"k":45,"x":0.96,"m":0.25},
{"k":46,"x":0,"c":0.25,"n":"2006.17"},{"k":46,"x":0.125,"c":0.258},{"k":46,"x":0.25,"c":0.262},{"k":46,"x":0.375,"c":0.258},{"k":46,"x":0.5,"c":0.25},{"k":46,"x":0.625,"c":0.242},{"k":46,"x":0.75,"c":0.235},{"k":46,"x":0.875,"c":0.233},{"k":46,"x":1,"c":0.24},
{"k":46,"x":0.1,"m":0.259},{"k":46,"x":0.19,"m":0.262},{"k":46,"x":0.34,"m":0.237},{"k":46,"x":0.35,"m":0.269},{"k":46,"x":0.45,"m":0.256},{"k":46,"x":0.57,"m":0.247},{"k":46,"x":0.6,"m":0.237},{"k":46,"x":0.69,"m":0.245},{"k":46,"x":0.83,"m":0.225},{"k":46,"x":0.86,"m":0.234},{"k":46,"x":0.98,"m":0.237},
{"k":47,"x":0,"c":0.248,"n":"2006.25"},{"k":47,"x":0.125,"c":0.265},{"k":47,"x":0.25,"c":0.274},{"k":47,"x":0.375,"c":0.268},{"k":47,"x":0.5,"c":0.25},{"k":47,"x":0.625,"c":0.232},{"k":47,"x":0.75,"c":0.227},{"k":47,"x":0.875,"c":0.235},{"k":47,"x":1,"c":0.248},
{"k":47,"x":0.01,"m":0.24},{"k":47,"x":0.05,"m":0.262},{"k":47,"x":0.17,"m":0.265},{"k":47,"x":0.2,"m":0.274},{"k":47,"x":0.26,"m":0.274},{"k":47,"x":0.29,"m":0.271},{"k":47,"x":0.41,"m":0.265},{"k":47,"x":0.42,"m":0.259},{"k":47,"x":0.56,"m":0.24},{"k":47,"x":0.67,"m":0.228},{"k":47,"x":0.82,"m":0.228},{"k":47,"x":0.91,"m":0.242},
{"k":48,"x":0,"c":0.238,"n":"2006.33"},{"k":48,"x":0.125,"c":0.252},{"k":48,"x":0.25,"c":0.264},{"k":48,"x":0.375,"c":0.268},{"k":48,"x":0.5,"c":0.26},{"k":48,"x":0.625,"c":0.244},{"k":48,"x":0.75,"c":0.231},{"k":48,"x":0.875,"c":0.23},{"k":48,"x":1,"c":0.238},
{"k":48,"x":0.12,"m":0.253},{"k":48,"x":0.21,"m":0.259},{"k":48,"x":0.29,"m":0.265},{"k":48,"x":0.35,"m":0.267},{"k":48,"x":0.36,"m":0.281},{"k":48,"x":0.41,"m":0.265},{"k":48,"x":0.5,"m":0.259},{"k":48,"x":0.53,"m":0.256},{"k":48,"x":0.62,"m":0.243},{"k":48,"x":0.74,"m":0.23},{"k":48,"x":0.85,"m":0.23},{"k":48,"x":0.97,"m":0.237},
{"k":49,"x":0,"c":0.239,"n":"2006.40"},{"k":49,"x":0.125,"c":0.248},{"k":49,"x":0.25,"c":0.255},{"k":49,"x":0.375,"c":0.259},{"k":49,"x":0.5,"c":0.255},{"k":49,"x":0.625,"c":0.245},{"k":49,"x":0.75,"c":0.233},{"k":49,"x":0.875,"c":0.23},{"k":49,"x":1,"c":0.238},
{"k":49,"x":0.03,"m":0.243},{"k":49,"x":0.14,"m":0.25},{"k":49,"x":0.23,"m":0.255},{"k":49,"x":0.31,"m":0.257},{"k":49,"x":0.4,"m":0.259},{"k":49,"x":0.54,"m":0.253},{"k":49,"x":0.63,"m":0.247},{"k":49,"x":0.72,"m":0.234},{"k":49,"x":0.77,"m":0.228},{"k":49,"x":0.86,"m":0.231},{"k":49,"x":0.95,"m":0.237},
{"k":50,"x":0,"c":0.241,"n":"2006.94"},{"k":50,"x":0.125,"c":0.258},{"k":50,"x":0.25,"c":0.28},{"k":50,"x":0.375,"c":0.279},{"k":50,"x":0.5,"c":0.265},{"k":50,"x":0.625,"c":0.24},{"k":50,"x":0.75,"c":0.238},{"k":50,"x":0.875,"c":0.243},{"k":50,"x":1,"c":0.242},
{"k":50,"x":0.03,"m":0.245},{"k":50,"x":0.1,"m":0.245},{"k":50,"x":0.19,"m":0.26},{"k":50,"x":0.25,"m":0.282},{"k":50,"x":0.34,"m":0.279},{"k":50,"x":0.49,"m":0.269},{"k":50,"x":0.66,"m":0.237},{"k":50,"x":0.78,"m":0.242},{"k":50,"x":0.81,"m":0.246},{"k":50,"x":0.87,"m":0.248},{"k":50,"x":0.96,"m":0.242},
{"k":51,"x":0,"c":0.241,"n":"2007.02"},{"k":51,"x":0.125,"c":0.26},{"k":51,"x":0.25,"c":0.287},{"k":51,"x":0.375,"c":0.284},{"k":51,"x":0.5,"c":0.258},{"k":51,"x":0.625,"c":0.24},{"k":51,"x":0.75,"c":0.24},{"k":51,"x":0.875,"c":0.242},{"k":51,"x":1,"c":0.241},
{"k":51,"x":0.08,"m":0.248},{"k":51,"x":0.19,"m":0.272},{"k":51,"x":0.28,"m":0.291},{"k":51,"x":0.31,"m":0.294},{"k":51,"x":0.36,"m":0.282},{"k":51,"x":0.39,"m":0.279},{"k":51,"x":0.42,"m":0.272},{"k":51,"x":0.48,"m":0.263},{"k":51,"x":0.57,"m":0.245},{"k":51,"x":0.65,"m":0.237},{"k":51,"x":0.74,"m":0.242},{"k":51,"x":0.91,"m":0.242},
{"k":52,"x":0,"c":0.241,"n":"2007.10"},{"k":52,"x":0.125,"c":0.254},{"k":52,"x":0.25,"c":0.277},{"k":52,"x":0.375,"c":0.288},{"k":52,"x":0.5,"c":0.276},{"k":52,"x":0.625,"c":0.253},{"k":52,"x":0.75,"c":0.243},{"k":52,"x":0.875,"c":0.242},{"k":52,"x":1,"c":0.241},
{"k":52,"x":0.09,"m":0.235},{"k":52,"x":0.23,"m":0.266},{"k":52,"x":0.38,"m":0.288},{"k":52,"x":0.46,"m":0.281},{"k":52,"x":0.58,"m":0.258},{"k":52,"x":0.66,"m":0.248},{"k":52,"x":0.78,"m":0.245},{"k":52,"x":0.87,"m":0.244},{"k":52,"x":0.92,"m":0.242},{"k":52,"x":0.98,"m":0.24},
{"k":53,"x":0,"c":0.238,"n":"2007.17"},{"k":53,"x":0.125,"c":0.253},{"k":53,"x":0.25,"c":0.273},{"k":53,"x":0.375,"c":0.288},{"k":53,"x":0.5,"c":0.283},{"k":53,"x":0.625,"c":0.259},{"k":53,"x":0.75,"c":0.242},{"k":53,"x":0.875,"c":0.236},{"k":53,"x":1,"c":0.238},
{"k":53,"x":0.02,"m":0.24},{"k":53,"x":0.08,"m":0.248},{"k":53,"x":0.17,"m":0.26},{"k":53,"x":0.26,"m":0.276},{"k":53,"x":0.31,"m":0.282},{"k":53,"x":0.4,"m":0.288},{"k":53,"x":0.46,"m":0.285},{"k":53,"x":0.52,"m":0.279},{"k":53,"x":0.63,"m":0.257},{"k":53,"x":0.66,"m":0.254},{"k":53,"x":0.78,"m":0.24},{"k":53,"x":0.92,"m":0.237},
{"k":54,"x":0,"c":0.235,"n":"2007.25"},{"k":54,"x":0.125,"c":0.251},{"k":54,"x":0.25,"c":0.272},{"k":54,"x":0.375,"c":0.282},{"k":54,"x":0.5,"c":0.279},{"k":54,"x":0.625,"c":0.261},{"k":54,"x":0.75,"c":0.242},{"k":54,"x":0.875,"c":0.235},{"k":54,"x":1,"c":0.238},
{"k":54,"x":0.04,"m":0.237},{"k":54,"x":0.1,"m":0.245},{"k":54,"x":0.22,"m":0.26},{"k":54,"x":0.33,"m":0.246},{"k":54,"x":0.3,"m":0.281},{"k":54,"x":0.51,"m":0.306},{"k":54,"x":0.56,"m":0.276},{"k":54,"x":0.68,"m":0.254},{"k":54,"x":0.74,"m":0.245},{"k":54,"x":0.8,"m":0.24},{"k":54,"x":0.85,"m":0.237},{"k":54,"x":0.97,"m":0.24},
{"k":55,"x":0,"c":0.24,"n":"2007.34"},{"k":55,"x":0.125,"c":0.258},{"k":55,"x":0.25,"c":0.28},{"k":55,"x":0.375,"c":0.284},{"k":55,"x":0.5,"c":0.264},{"k":55,"x":0.625,"c":0.24},{"k":55,"x":0.75,"c":0.231},{"k":55,"x":0.875,"c":0.233},{"k":55,"x":1,"c":0.238},
{"k":55,"x":0.03,"m":0.24},{"k":55,"x":0.15,"m":0.248},{"k":55,"x":0.29,"m":0.282},{"k":55,"x":0.41,"m":0.277},{"k":55,"x":0.44,"m":0.282},{"k":55,"x":0.52,"m":0.258},{"k":55,"x":0.67,"m":0.232},{"k":55,"x":0.78,"m":0.231},{"k":55,"x":0.87,"m":0.235},{"k":55,"x":0.93,"m":0.237},
{"k":56,"x":0,"c":0.247,"n":"2007.41"},{"k":56,"x":0.125,"c":0.257},{"k":56,"x":0.25,"c":0.28},{"k":56,"x":0.375,"c":0.286},{"k":56,"x":0.5,"c":0.262},{"k":56,"x":0.625,"c":0.232},{"k":56,"x":0.75,"c":0.229},{"k":56,"x":0.875,"c":0.235},{"k":56,"x":1,"c":0.243},
{"k":56,"x":0.08,"m":0.251},{"k":56,"x":0.13,"m":0.256},{"k":56,"x":0.19,"m":0.254},{"k":56,"x":0.25,"m":0.272},{"k":56,"x":0.31,"m":0.277},{"k":56,"x":0.39,"m":0.285},{"k":56,"x":0.45,"m":0.266},{"k":56,"x":0.48,"m":0.263},{"k":56,"x":0.51,"m":0.26},{"k":56,"x":0.63,"m":0.229},{"k":56,"x":0.71,"m":0.231},{"k":56,"x":0.8,"m":0.234},{"k":56,"x":0.88,"m":0.237},{"k":56,"x":0.97,"m":0.245},
{"k":57,"x":0,"c":0.234,"n":"2007.97"},{"k":57,"x":0.125,"c":0.25},{"k":57,"x":0.25,"c":0.27},{"k":57,"x":0.375,"c":0.276},{"k":57,"x":0.5,"c":0.264},{"k":57,"x":0.625,"c":0.248},{"k":57,"x":0.75,"c":0.242},{"k":57,"x":0.875,"c":0.24},{"k":57,"x":1,"c":0.236},
{"k":57,"x":0.02,"m":0.234},{"k":57,"x":0.08,"m":0.239},{"k":57,"x":0.17,"m":0.248},{"k":57,"x":0.26,"m":0.276},{"k":57,"x":0.38,"m":0.274},{"k":57,"x":0.44,"m":0.269},{"k":57,"x":0.53,"m":0.262},{"k":57,"x":0.56,"m":0.257},{"k":57,"x":0.64,"m":0.244},{"k":57,"x":0.7,"m":0.248},{"k":57,"x":0.76,"m":0.245},{"k":57,"x":0.85,"m":0.242},{"k":57,"x":0.91,"m":0.235},{"k":57,"x":0.97,"m":0.239},
{"k":58,"x":0,"c":0.239,"n":"2008.05"},{"k":58,"x":0.125,"c":0.261},{"k":58,"x":0.25,"c":0.283},{"k":58,"x":0.375,"c":0.29},{"k":58,"x":0.5,"c":0.276},{"k":58,"x":0.625,"c":0.254},{"k":58,"x":0.75,"c":0.243},{"k":58,"x":0.875,"c":0.24},{"k":58,"x":1,"c":0.24},
{"k":58,"x":0.06,"m":0.248},{"k":58,"x":0.12,"m":0.257},{"k":58,"x":0.18,"m":0.272},{"k":58,"x":0.21,"m":0.279},{"k":58,"x":0.26,"m":0.282},{"k":58,"x":0.32,"m":0.291},{"k":58,"x":0.35,"m":0.294},{"k":58,"x":0.44,"m":0.282},{"k":58,"x":0.5,"m":0.276},{"k":58,"x":0.59,"m":0.254},{"k":58,"x":0.71,"m":0.245},{"k":58,"x":0.76,"m":0.242},{"k":58,"x":0.85,"m":0.24},{"k":58,"x":0.94,"m":0.242},
{"k":59,"x":0,"c":0.255,"n":"2008.13"},{"k":59,"x":0.125,"c":0.262},{"k":59,"x":0.25,"c":0.276},{"k":59,"x":0.375,"c":0.286},{"k":59,"x":0.5,"c":0.275},{"k":59,"x":0.625,"c":0.256},{"k":59,"x":0.75,"c":0.249},{"k":59,"x":0.875,"c":0.249},{"k":59,"x":1,"c":0.251},
{"k":59,"x":0.06,"m":0.26},{"k":59,"x":0.14,"m":0.258},{"k":59,"x":0.2,"m":0.263},{"k":59,"x":0.31,"m":0.282},{"k":59,"x":0.37,"m":0.295},{"k":59,"x":0.43,"m":0.282},{"k":59,"x":0.49,"m":0.276},{"k":59,"x":0.69,"m":0.258},{"k":59,"x":0.74,"m":0.251},{"k":59,"x":0.83,"m":0.248},{"k":59,"x":0.91,"m":0.251},{"k":59,"x":0.97,"m":0.248},
{"k":60,"x":0,"c":0.254,"n":"2008.20"},{"k":60,"x":0.125,"c":0.259},{"k":60,"x":0.25,"c":0.268},{"k":60,"x":0.375,"c":0.272},{"k":60,"x":0.5,"c":0.266},{"k":60,"x":0.625,"c":0.258},{"k":60,"x":0.75,"c":0.252},{"k":60,"x":0.875,"c":0.251},{"k":60,"x":1,"c":0.253},
{"k":60,"x":0.01,"m":0.256},{"k":60,"x":0.07,"m":0.25},{"k":60,"x":0.13,"m":0.258},{"k":60,"x":0.22,"m":0.263},{"k":60,"x":0.31,"m":0.272},{"k":60,"x":0.37,"m":0.276},{"k":60,"x":0.46,"m":0.269},{"k":60,"x":0.54,"m":0.263},{"k":60,"x":0.63,"m":0.261},{"k":60,"x":0.72,"m":0.245},{"k":60,"x":0.81,"m":0.25},{"k":60,"x":0.87,"m":0.25},{"k":60,"x":0.96,"m":0.253},
{"k":61,"x":0,"c":0.257,"n":"2008.27"},{"k":61,"x":0.125,"c":0.268},{"k":61,"x":0.25,"c":0.276},{"k":61,"x":0.375,"c":0.275},{"k":61,"x":0.5,"c":0.266},{"k":61,"x":0.625,"c":0.255},{"k":61,"x":0.75,"c":0.246},{"k":61,"x":0.875,"c":0.246},{"k":61,"x":1,"c":0.254},
{"k":61,"x":0.08,"m":0.263},{"k":61,"x":0.13,"m":0.272},{"k":61,"x":0.19,"m":0.276},{"k":61,"x":0.28,"m":0.281},{"k":61,"x":0.34,"m":0.278},{"k":61,"x":0.42,"m":0.272},{"k":61,"x":0.51,"m":0.263},{"k":61,"x":0.6,"m":0.263},{"k":61,"x":0.68,"m":0.256},{"k":61,"x":0.77,"m":0.245},{"k":61,"x":0.86,"m":0.247},{"k":61,"x":0.94,"m":0.256},
{"k":62,"x":0,"c":0.257,"n":"2008.34"},{"k":62,"x":0.125,"c":0.267},{"k":62,"x":0.25,"c":0.276},{"k":62,"x":0.375,"c":0.281},{"k":62,"x":0.5,"c":0.279},{"k":62,"x":0.625,"c":0.268},{"k":62,"x":0.75,"c":0.255},{"k":62,"x":0.875,"c":0.25},{"k":62,"x":1,"c":0.256},
{"k":62,"x":0.06,"m":0.263},{"k":62,"x":0.09,"m":0.274},{"k":62,"x":0.2,"m":0.272},{"k":62,"x":0.38,"m":0.281},{"k":62,"x":0.52,"m":0.284},{"k":62,"x":0.55,"m":0.275},{"k":62,"x":0.61,"m":0.269},{"k":62,"x":0.72,"m":0.255},{"k":62,"x":0.78,"m":0.251},{"k":62,"x":0.9,"m":0.253},{"k":62,"x":0.98,"m":0.26},
{"k":63,"x":0,"c":0.253,"n":"2008.43"},{"k":63,"x":0.125,"c":0.267},{"k":63,"x":0.25,"c":0.285},{"k":63,"x":0.375,"c":0.285},{"k":63,"x":0.5,"c":0.271},{"k":63,"x":0.625,"c":0.262},{"k":63,"x":0.75,"c":0.257},{"k":63,"x":0.875,"c":0.253},{"k":63,"x":1,"c":0.251},
{"k":63,"x":0.02,"m":0.255},{"k":63,"x":0.08,"m":0.262},{"k":63,"x":0.14,"m":0.268},{"k":63,"x":0.23,"m":0.284},{"k":63,"x":0.28,"m":0.287},{"k":63,"x":0.34,"m":0.298},{"k":63,"x":0.43,"m":0.277},{"k":63,"x":0.52,"m":0.265},{"k":63,"x":0.6,"m":0.263},{"k":63,"x":0.69,"m":0.262},{"k":63,"x":0.75,"m":0.257},{"k":63,"x":0.81,"m":0.253},{"k":63,"x":0.9,"m":0.253},{"k":63,"x":0.95,"m":0.253},
{"k":64,"x":0,"c":0.248,"n":"2009.01"},{"k":64,"x":0.125,"c":0.257},{"k":64,"x":0.25,"c":0.268},{"k":64,"x":0.375,"c":0.268},{"k":64,"x":0.5,"c":0.262},{"k":64,"x":0.625,"c":0.258},{"k":64,"x":0.75,"c":0.256},{"k":64,"x":0.875,"c":0.252},{"k":64,"x":1,"c":0.249},
{"k":64,"x":0.01,"m":0.247},{"k":64,"x":0.07,"m":0.248},{"k":64,"x":0.19,"m":0.259},{"k":64,"x":0.3,"m":0.273},{"k":64,"x":0.36,"m":0.268},{"k":64,"x":0.42,"m":0.265},{"k":64,"x":0.51,"m":0.262},{"k":64,"x":0.56,"m":0.259},{"k":64,"x":0.65,"m":0.248},{"k":64,"x":0.71,"m":0.256},{"k":64,"x":0.8,"m":0.261},{"k":64,"x":0.91,"m":0.243},{"k":64,"x":0.94,"m":0.253},
{"k":65,"x":0,"c":0.24,"n":"2009.08"},{"k":65,"x":0.125,"c":0.252},{"k":65,"x":0.25,"c":0.26},{"k":65,"x":0.375,"c":0.264},{"k":65,"x":0.5,"c":0.262},{"k":65,"x":0.625,"c":0.257},{"k":65,"x":0.75,"c":0.253},{"k":65,"x":0.875,"c":0.25},{"k":65,"x":1,"c":0.247},
{"k":65,"x":0.06,"m":0.237},{"k":65,"x":0.12,"m":0.259},{"k":65,"x":0.2,"m":0.257},{"k":65,"x":0.26,"m":0.262},{"k":65,"x":0.32,"m":0.273},{"k":65,"x":0.41,"m":0.263},{"k":65,"x":0.49,"m":0.267},{"k":65,"x":0.55,"m":0.256},{"k":65,"x":0.64,"m":0.256},{"k":65,"x":0.76,"m":0.25},{"k":65,"x":0.81,"m":0.251},{"k":65,"x":0.9,"m":0.251},{"k":65,"x":0.96,"m":0.247},
{"k":66,"x":0,"c":0.254,"n":"2009.17"},{"k":66,"x":0.125,"c":0.273},{"k":66,"x":0.25,"c":0.266},{"k":66,"x":0.375,"c":0.252},{"k":66,"x":0.5,"c":0.248},{"k":66,"x":0.625,"c":0.25},{"k":66,"x":0.75,"c":0.245},{"k":66,"x":0.875,"c":0.237},{"k":66,"x":1,"c":0.243},
{"k":66,"x":0.1,"m":0.271},{"k":66,"x":0.13,"m":0.274},{"k":66,"x":0.22,"m":0.268},{"k":66,"x":0.48,"m":0.248},{"k":66,"x":0.6,"m":0.259},{"k":66,"x":0.63,"m":0.245},{"k":66,"x":0.71,"m":0.247},{"k":66,"x":0.83,"m":0.237},{"k":66,"x":0.97,"m":0.234},
{"k":67,"x":0,"c":0.244,"n":"2009.25"},{"k":67,"x":0.125,"c":0.252},{"k":67,"x":0.25,"c":0.257},{"k":67,"x":0.375,"c":0.257},{"k":67,"x":0.5,"c":0.252},{"k":67,"x":0.625,"c":0.246},{"k":67,"x":0.75,"c":0.24},{"k":67,"x":0.875,"c":0.237},{"k":67,"x":1,"c":0.24},
{"k":67,"x":0.02,"m":0.244},{"k":67,"x":0.08,"m":0.249},{"k":67,"x":0.14,"m":0.256},{"k":67,"x":0.17,"m":0.261},{"k":67,"x":0.23,"m":0.253},{"k":67,"x":0.29,"m":0.258},{"k":67,"x":0.35,"m":0.258},{"k":67,"x":0.41,"m":0.253},{"k":67,"x":0.44,"m":0.263},{"k":67,"x":0.53,"m":0.249},{"k":67,"x":0.64,"m":0.245},{"k":67,"x":0.7,"m":0.243},{"k":67,"x":0.79,"m":0.238},{"k":67,"x":0.88,"m":0.238},
{"k":68,"x":0,"c":0.24,"n":"2009.33"},{"k":68,"x":0.125,"c":0.256},{"k":68,"x":0.25,"c":0.247},{"k":68,"x":0.375,"c":0.238},{"k":68,"x":0.5,"c":0.235},{"k":68,"x":0.625,"c":0.233},{"k":68,"x":0.75,"c":0.234},{"k":68,"x":0.875,"c":0.238},{"k":68,"x":1,"c":0.243},
{"k":68,"x":0.12,"m":0.256},{"k":68,"x":0.24,"m":0.247},{"k":68,"x":0.29,"m":0.241},{"k":68,"x":0.38,"m":0.238},{"k":68,"x":0.5,"m":0.233},{"k":68,"x":0.59,"m":0.235},{"k":68,"x":0.65,"m":0.232},{"k":68,"x":0.74,"m":0.227},{"k":68,"x":0.75,"m":0.235},{"k":68,"x":0.85,"m":0.237},{"k":68,"x":0.91,"m":0.244},
{"k":69,"x":0,"c":0.243,"n":"2010.01"},{"k":69,"x":0.125,"c":0.25},{"k":69,"x":0.25,"c":0.27},{"k":69,"x":0.375,"c":0.277},{"k":69,"x":0.5,"c":0.262},{"k":69,"x":0.625,"c":0.24},{"k":69,"x":0.75,"c":0.234},{"k":69,"x":0.875,"c":0.236},{"k":69,"x":1,"c":0.243},
{"k":69,"x":0.03,"m":0.244},{"k":69,"x":0.09,"m":0.241},{"k":69,"x":0.17,"m":0.241},{"k":69,"x":0.2,"m":0.25},{"k":69,"x":0.23,"m":0.269},{"k":69,"x":0.26,"m":0.275},{"k":69,"x":0.34,"m":0.272},{"k":69,"x":0.46,"m":0.266},{"k":69,"x":0.52,"m":0.26},{"k":69,"x":0.66,"m":0.235},{"k":69,"x":0.74,"m":0.239},{"k":69,"x":0.77,"m":0.237},{"k":69,"x":0.89,"m":0.238},{"k":69,"x":0.95,"m":0.244},
{"k":70,"x":0,"c":0.234,"n":"2010.19"},{"k":70,"x":0.125,"c":0.244},{"k":70,"x":0.25,"c":0.253},{"k":70,"x":0.375,"c":0.259},{"k":70,"x":0.5,"c":0.252},{"k":70,"x":0.625,"c":0.237},{"k":70,"x":0.75,"c":0.228},{"k":70,"x":0.875,"c":0.229},{"k":70,"x":1,"c":0.235},
{"k":70,"x":0.01,"m":0.235},{"k":70,"x":0.04,"m":0.245},{"k":70,"x":0.1,"m":0.254},{"k":70,"x":0.13,"m":0.243},{"k":70,"x":0.22,"m":0.248},{"k":70,"x":0.25,"m":0.245},{"k":70,"x":0.36,"m":0.256},{"k":70,"x":0.39,"m":0.262},{"k":70,"x":0.4,"m":0.265},{"k":70,"x":0.6,"m":0.231},{"k":70,"x":0.72,"m":0.228},
{"k":71,"x":0,"c":0.248,"n":"2010.34"},{"k":71,"x":0.125,"c":0.26},{"k":71,"x":0.25,"c":0.266},{"k":71,"x":0.375,"c":0.265},{"k":71,"x":0.5,"c":0.257},{"k":71,"x":0.625,"c":0.246},{"k":71,"x":0.75,"c":0.241},{"k":71,"x":0.875,"c":0.242},{"k":71,"x":1,"c":0.247},
{"k":71,"x":0.04,"m":0.253},{"k":71,"x":0.07,"m":0.256},{"k":71,"x":0.1,"m":0.25},{"k":71,"x":0.13,"m":0.262},{"k":71,"x":0.19,"m":0.265},{"k":71,"x":0.25,"m":0.265},{"k":71,"x":0.34,"m":0.268},{"k":71,"x":0.42,"m":0.259},{"k":71,"x":0.54,"m":0.252},{"k":71,"x":0.69,"m":0.231},{"k":71,"x":0.78,"m":0.24},{"k":71,"x":0.86,"m":0.243},{"k":71,"x":0.95,"m":0.247},{"k":71,"x":0.98,"m":0.25}
]},
"spacing":-6,
"hconcat":[
{"transform":[{"filter":"datum.k%10<2"}],
 "facet":{"field":"k","type":"ordinal","header":{"labels":false,"title":null,"labelFontSize":0,"labelPadding":0}},
 "columns":2,"spacing":0,"bounds":"flush",
 "spec":{"width":57,"height":56,
 "layer":[
 {"transform":[{"filter":"isValid(datum.c)"}],"mark":{"type":"line","color":"#222","strokeWidth":0.8,"interpolate":"monotone"},
  "encoding":{"x":{"field":"x","type":"quantitative","scale":{"domain":[0,1],"nice":false,"zero":false},"title":"φ","axis":{"values":[0,0.2,0.4,0.6,0.8,1],"labelExpr":"datum.value==1?'':(datum.value==0?'0':replace(format(datum.value,'.1f'),'0.','.'))","labelOverlap":false,"labelFlush":false,"labelFontSize":9,"labelColor":"#333","labelPadding":2,"tickSize":3,"tickColor":"#777","domain":false,"grid":false,"titleFontSize":10,"titleFontWeight":"normal","titleColor":"#444","titlePadding":2}},
   "y":{"field":"c","type":"quantitative","scale":{"domain":[0.204,0.309],"reverse":true,"nice":false,"zero":false},"title":null,"axis":{"values":[0.2303,0.2566,0.2828,0.309],"format":".3f","labelOverlap":false,"labelFlush":false,"labelFontSize":9,"labelColor":"#333","labelPadding":1,"tickSize":3,"tickColor":"#777","domain":false,"grid":false}}}},
 {"transform":[{"filter":"isValid(datum.m)"}],"mark":{"type":"circle","color":"#000","opacity":1,"size":16},
  "encoding":{"x":{"field":"x","type":"quantitative","scale":{"domain":[0,1],"nice":false,"zero":false},"title":"φ","axis":{"values":[0,0.2,0.4,0.6,0.8,1],"labelExpr":"datum.value==1?'':(datum.value==0?'0':replace(format(datum.value,'.1f'),'0.','.'))","labelOverlap":false,"labelFlush":false,"labelFontSize":9,"labelColor":"#333","labelPadding":2,"tickSize":3,"tickColor":"#777","domain":false,"grid":false,"titleFontSize":10,"titleFontWeight":"normal","titleColor":"#444","titlePadding":2}},
   "y":{"field":"m","type":"quantitative","scale":{"domain":[0.204,0.309],"reverse":true,"nice":false,"zero":false},"title":null,"axis":{"values":[0.2303,0.2566,0.2828,0.309],"format":".3f","labelOverlap":false,"labelFlush":false,"labelFontSize":9,"labelColor":"#333","labelPadding":1,"tickSize":3,"tickColor":"#777","domain":false,"grid":false}}}},
 {"transform":[{"filter":"isValid(datum.n)"}],"mark":{"type":"text","fontSize":10,"color":"#555","align":"center","baseline":"alphabetic"},
  "encoding":{"x":{"datum":0.44,"type":"quantitative","scale":{"domain":[0,1],"nice":false,"zero":false},"title":"φ","axis":{"values":[0,0.2,0.4,0.6,0.8,1],"labelExpr":"datum.value==1?'':(datum.value==0?'0':replace(format(datum.value,'.1f'),'0.','.'))","labelOverlap":false,"labelFlush":false,"labelFontSize":9,"labelColor":"#333","labelPadding":2,"tickSize":3,"tickColor":"#777","domain":false,"grid":false,"titleFontSize":10,"titleFontWeight":"normal","titleColor":"#444","titlePadding":2}},
   "y":{"datum":0.3062,"type":"quantitative","scale":{"domain":[0.204,0.309],"reverse":true,"nice":false,"zero":false},"title":null,"axis":{"values":[0.2303,0.2566,0.2828,0.309],"format":".3f","labelOverlap":false,"labelFlush":false,"labelFontSize":9,"labelColor":"#333","labelPadding":1,"tickSize":3,"tickColor":"#777","domain":false,"grid":false}},
   "text":{"field":"n"}}}
 ]}},
{"transform":[{"filter":"datum.k%10>=2"}],
 "facet":{"field":"k","type":"ordinal","header":{"labels":false,"title":null,"labelFontSize":0,"labelPadding":0}},
 "columns":8,"spacing":0,"bounds":"flush",
 "spec":{"width":57,"height":56,
 "layer":[
 {"transform":[{"filter":"isValid(datum.c)"}],"mark":{"type":"line","color":"#222","strokeWidth":0.8,"interpolate":"monotone"},
  "encoding":{"x":{"field":"x","type":"quantitative","scale":{"domain":[0,1],"nice":false,"zero":false},"title":"φ","axis":{"values":[0,0.2,0.4,0.6,0.8,1],"labelExpr":"datum.value==1?'':(datum.value==0?'0':replace(format(datum.value,'.1f'),'0.','.'))","labelOverlap":false,"labelFlush":false,"labelFontSize":9,"labelColor":"#333","labelPadding":2,"tickSize":3,"tickColor":"#777","domain":false,"grid":false,"titleFontSize":10,"titleFontWeight":"normal","titleColor":"#444","titlePadding":2}},
   "y":{"field":"c","type":"quantitative","scale":{"domain":[0.204,0.309],"reverse":true,"nice":false,"zero":false},"axis":null}}},
 {"transform":[{"filter":"isValid(datum.m)"}],"mark":{"type":"circle","color":"#000","opacity":1,"size":16},
  "encoding":{"x":{"field":"x","type":"quantitative","scale":{"domain":[0,1],"nice":false,"zero":false},"title":"φ","axis":{"values":[0,0.2,0.4,0.6,0.8,1],"labelExpr":"datum.value==1?'':(datum.value==0?'0':replace(format(datum.value,'.1f'),'0.','.'))","labelOverlap":false,"labelFlush":false,"labelFontSize":9,"labelColor":"#333","labelPadding":2,"tickSize":3,"tickColor":"#777","domain":false,"grid":false,"titleFontSize":10,"titleFontWeight":"normal","titleColor":"#444","titlePadding":2}},
   "y":{"field":"m","type":"quantitative","scale":{"domain":[0.204,0.309],"reverse":true,"nice":false,"zero":false},"axis":null}}},
 {"transform":[{"filter":"isValid(datum.n)"}],"mark":{"type":"text","fontSize":10,"color":"#555","align":"center","baseline":"alphabetic"},
  "encoding":{"x":{"datum":0.44,"type":"quantitative","scale":{"domain":[0,1],"nice":false,"zero":false},"title":"φ","axis":{"values":[0,0.2,0.4,0.6,0.8,1],"labelExpr":"datum.value==1?'':(datum.value==0?'0':replace(format(datum.value,'.1f'),'0.','.'))","labelOverlap":false,"labelFlush":false,"labelFontSize":9,"labelColor":"#333","labelPadding":2,"tickSize":3,"tickColor":"#777","domain":false,"grid":false,"titleFontSize":10,"titleFontWeight":"normal","titleColor":"#444","titlePadding":2}},
   "y":{"datum":0.3062,"type":"quantitative","scale":{"domain":[0.204,0.309],"reverse":true,"nice":false,"zero":false},"axis":null},
   "text":{"field":"n"}}}
 ]}}
]
}
